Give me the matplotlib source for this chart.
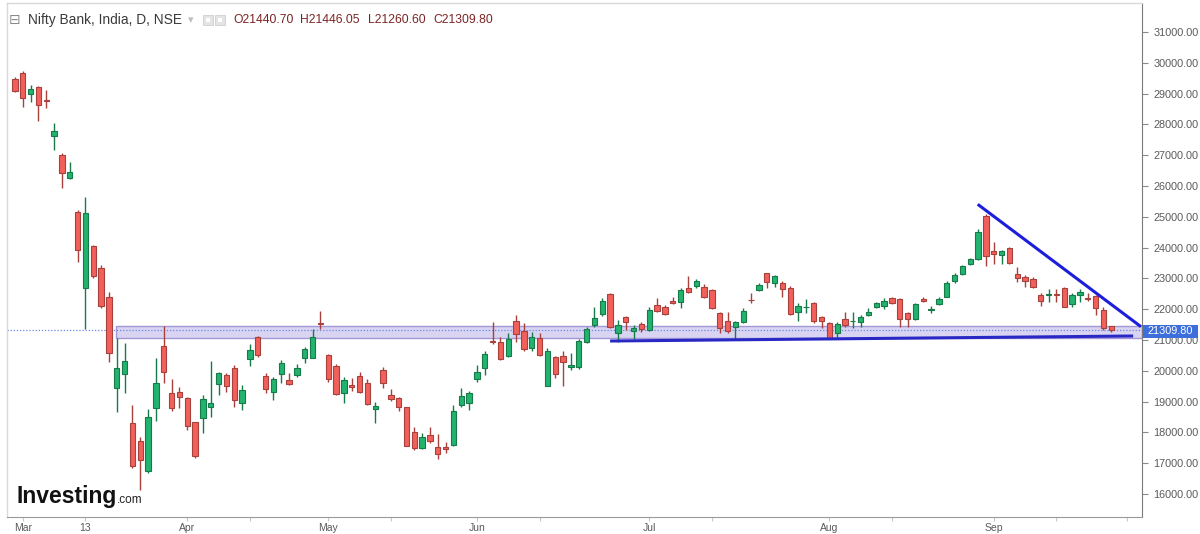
import matplotlib
matplotlib.use("Agg")
import matplotlib.pyplot as plt
from matplotlib.patches import Rectangle

# ---------------- data ----------------
opens = [29474, 29659, 28987, 29224, 28792, 27623, 27006, 26250, 25166, 22698,
         24052, 23328, 22406, 19432, 19896, 18295, 17721, 16747, 18782, 20805,
         19269, 19321, 19126, 18328, 18457, 18815, 19571, 19863, 20081, 18964,
         20373, 21107, 19831, 19312, 19896, 19701, 19863, 20406, 20406, 21562,
         20513, 20156, 19289, 19529, 19841, 19614, 18750, 20026, 19204, 19117,
         18815, 18023, 17484, 17915, 17535, 17516, 17591, 18889, 18964, 19724,
         20101, 20967, 20945, 20480, 21627, 21292, 20730, 21074, 19516, 20458,
         20480, 20133, 20113, 20945, 21477, 21844, 22484, 21217, 21737, 21292,
         21519, 21325, 22136, 22081, 22276, 22243, 22698, 22753, 22730, 22623,
         21886, 21627, 21432, 21594, 22299, 22623, 23165, 22841, 22860, 22678,
         21899, 22062, 22211, 21737, 21562, 21217, 21672, 21617, 21575, 21812,
         22062, 22114, 22373, 22321, 21886, 21682, 22315, 21984, 22169, 22406,
         22925, 23143, 23467, 23620, 25026, 23890, 23760, 23977, 23133, 23036,
         22971, 22471, 22465, 22493, 22678, 22169, 22451, 22354, 22428, 21974,
         21440.70]
highs = [29529, 29734, 29279, 29247, 29117, 28036, 27062, 26789, 25221, 25653,
         24084, 23435, 22549, 21055, 20912, 18889, 17860, 18750, 20406, 21464,
         19724, 19484, 19159, 18347, 19214, 20318, 19971, 19919, 20188, 19539,
         20870, 21130, 19919, 19808, 20351, 19938, 20221, 20782, 21347, 21951,
         20545, 20221, 19789, 19756, 19971, 19724, 18997, 20114, 19399, 19159,
         18834, 18185, 17971, 18185, 17948, 17678, 18889, 19432, 19354, 20188,
         20643, 21594, 21107, 21217, 21812, 21562, 21250, 21237, 20750, 20480,
         20652, 20588, 21023, 21432, 22081, 22354, 22516, 21649, 21779, 21487,
         21594, 22062, 22354, 22136, 22406, 22678, 23078, 22971, 22818, 22646,
         21919, 21919, 21627, 22029, 22516, 22860, 23185, 23110, 22915, 22753,
         22191, 22321, 22243, 21779, 21584, 21575, 21919, 21919, 21812, 22029,
         22243, 22354, 22406, 22354, 21919, 22191, 22406, 22104, 22386, 22925,
         23165, 23435, 23672, 24594, 25091, 24191, 23922, 24010, 23380, 23110,
         23036, 22516, 22656, 22656, 22730, 22516, 22646, 22516, 22461, 22062,
         21446.05]
lows = [29062, 28575, 28737, 28120, 28523, 27169, 25925, 26217, 23542, 21347,
        23003, 22029, 20295, 18672, 19269, 16834, 16130, 16672, 18380, 19594,
        18704, 18782, 18078, 17159, 17990, 18510, 19214, 19302, 18834, 18727,
        20156, 20458, 19269, 19052, 19594, 19539, 19808, 20263, 20406, 21347,
        19646, 19214, 18964, 19354, 19289, 18900, 18315, 19432, 19029, 18704,
        17558, 17428, 17451, 17646, 17127, 17341, 17568, 18815, 18727, 19646,
        19863, 20870, 20351, 20438, 20945, 20652, 20652, 20480, 19500, 19756,
        19516, 20026, 20049, 20893, 21432, 21779, 21399, 20945, 21325, 21023,
        21269, 21302, 21919, 21812, 22169, 22049, 22516, 22678, 22354, 21997,
        21237, 21237, 21000, 21562, 22191, 22601, 22678, 22730, 22406, 21812,
        21627, 21886, 21562, 21380, 21020, 21023, 21432, 21380, 21432, 21779,
        22029, 21997, 22169, 21432, 21432, 21649, 22243, 21886, 22136, 22386,
        22860, 23110, 23445, 23597, 23403, 23467, 23467, 23467, 22893, 22730,
        22678, 22104, 22243, 22243, 22062, 22081, 22243, 22276, 21812, 21325,
        21260.60]
closes = [29094, 28847, 29140, 28630, 28769, 27786, 26432, 26464, 23922, 25133,
          23078, 22114, 20568, 20081, 20318, 16909, 17104, 18490, 19594, 19971,
          18782, 19159, 18217, 17234, 19074, 18945, 19919, 19506, 19052, 19376,
          20675, 20513, 19409, 19734, 20263, 19571, 20081, 20698, 21107, 21519,
          19724, 19247, 19701, 19484, 19321, 18922, 18867, 19614, 19074, 18815,
          17568, 17484, 17841, 17730, 17289, 17451, 18704, 19182, 19289, 19951,
          20545, 20925, 20373, 21022, 21185, 20708, 21107, 20513, 20643, 19896,
          20295, 20188, 20967, 21347, 21704, 22276, 21432, 21487, 21575, 21380,
          21357, 21974, 21941, 21834, 22191, 22623, 22568, 22915, 22406, 22049,
          21380, 21302, 21594, 21951, 22290, 22786, 22893, 23078, 22646, 21834,
          22104, 22072, 21617, 21627, 21032, 21510, 21487, 21627, 21737, 21899,
          22211, 22276, 22191, 21682, 21682, 22169, 22282, 22006, 22321, 22841,
          23110, 23403, 23620, 24516, 23727, 23792, 23880, 23510, 23003, 22925,
          22730, 22266, 22477, 22477, 22081, 22451, 22568, 22321, 22029, 21380,
          21309.80]

month_ticks = [1, 9, 22, 40, 59, 81, 104, 125]
month_labels = ["Mar", "13", "Apr", "May", "Jun", "Jul", "Aug", "Sep"]
minor_ticks = [30, 48, 67, 89, 112, 133, 142]
price_ticks = list(range(16000, 31001, 1000))

zone_start = 13
zone_low, zone_high = 21055, 21465
support_x, support_y = [76.0, 142.8], [20967, 21130]
trend_x, trend_y = [122.95, 143.8], [25406, 21432]
last_close = 21309.80

title = "Nifty Bank, India, D, NSE"
ohlc_text = [("O", "21440.70"), ("H", "21446.05"), ("L", "21260.60"), ("C", "21309.80")]

# ---------------- figure ----------------
W, H = 1200, 534
fig = plt.figure(figsize=(W / 100, H / 100), dpi=100)
fig.patch.set_facecolor("white")

def fx(px):
    return px / W

def fy(py):
    return 1 - py / H

ax_left, ax_right, ax_top, ax_bottom = 7, 1142, 3, 517
ax = fig.add_axes([fx(ax_left), fy(ax_bottom), fx(ax_right - ax_left), (ax_bottom - ax_top) / H])
ax.set_facecolor("white")
ax.set_xlim(-1.02, 143.93)
ax.set_ylim(15253, 31942)

UP_FILL, UP_EDGE = "#22b36f", "#177a49"
DN_FILL, DN_EDGE = "#f2605b", "#a8403b"
body_w = 0.68
min_h = 18

# support/resistance zone
ax.add_patch(Rectangle((zone_start - 0.1, zone_low), 143.93 - zone_start + 0.1, zone_high - zone_low,
                       facecolor="#d2cdef", edgecolor="#968ad0", linewidth=1.0, alpha=0.85, zorder=1))
# last price dotted line
ax.axhline(last_close, color="#6f86e8", linestyle=(0, (1, 1.5)), linewidth=0.9, zorder=1.5)

for i, (o, h, l, c) in enumerate(zip(opens, highs, lows, closes)):
    up = c >= o
    fill = UP_FILL if up else DN_FILL
    edge = UP_EDGE if up else DN_EDGE
    ax.vlines(i, l, h, color=edge, linewidth=1.0, zorder=2)
    bottom = min(o, c)
    height = max(abs(c - o), min_h)
    if abs(c - o) < min_h:
        bottom = (o + c) / 2 - min_h / 2
    ax.add_patch(Rectangle((i - body_w / 2, bottom), body_w, height,
                           facecolor=fill, edgecolor=edge, linewidth=0.8, zorder=3))

ax.plot(support_x, support_y, color="#2a28c4", linewidth=2.2, solid_capstyle="butt", zorder=4)
ax.plot(trend_x, trend_y, color="#1d1ddc", linewidth=2.2, solid_capstyle="butt", zorder=4)

# axes styling
for side in ["top", "left"]:
    ax.spines[side].set_color("#d9d9d9")
    ax.spines[side].set_linewidth(1.0)
ax.spines["right"].set_color("#7a7a7a")
ax.spines["bottom"].set_color("#9a9a9a")

ax.yaxis.tick_right()
ax.set_yticks(price_ticks)
ax.set_yticklabels([f"{p:.2f}" for p in price_ticks])
ax.tick_params(axis="y", direction="out", length=4, width=0.8, color="#8a8a8a",
               labelcolor="#5a5a5a", labelsize=7.8, pad=4)
for t in ax.get_yticklabels():
    t.set_fontfamily("Liberation Sans")

ax.set_xticks(month_ticks)
ax.set_xticklabels(month_labels)
ax.set_xticks(minor_ticks, minor=True)
ax.tick_params(axis="x", which="both", direction="out", length=3, width=0.8, color="#c8c8c8",
               labelcolor="#5a5a5a", labelsize=7.5, pad=1.5)
for t in ax.get_xticklabels():
    t.set_fontfamily("Liberation Sans")

# last price label on the axis
fig.patches.append(Rectangle((fx(1143), fy(338)), fx(55), 13 / H, transform=fig.transFigure,
                             facecolor="#3d6fdc", edgecolor="none", zorder=10))
fig.text(fx(1170), fy(331), f"{last_close:.2f}", color="white", fontsize=7.8,
         family="Liberation Sans", ha="center", va="center", zorder=11)

# header
fig.text(fx(9), fy(20), "\u229f", color="#8a8a8a", fontsize=10, family="DejaVu Sans", va="center")
fig.text(fx(28), fy(20), title, color="#3a3a3a", fontsize=9.9, family="Liberation Sans", va="center")
fig.text(fx(188), fy(20), "\u25be", color="#bdbdbd", fontsize=8, family="DejaVu Sans", va="center")
for x0 in (203, 215):
    fig.patches.append(Rectangle((fx(x0), fy(25)), fx(10), 10 / H, transform=fig.transFigure,
                                 facecolor="#e4e4e4", edgecolor="#cfcfcf", linewidth=0.6))
    fig.patches.append(Rectangle((fx(x0 + 3), fy(22)), fx(4), 4 / H, transform=fig.transFigure,
                                 facecolor="white", edgecolor="none"))
xpos = [233, 300, 368, 433]
for (lab, val), xp in zip(ohlc_text, xpos):
    fig.text(fx(xp), fy(20), lab + val, color="#7d2424", fontsize=8.7,
             family="Liberation Sans", va="center")

# watermark logo
fig.text(fx(17), fy(497), "Investing", color="#111111", fontsize=16.5, fontweight="bold",
         family="Liberation Sans", va="center")
fig.text(fx(117), fy(500), ".com", color="#222222", fontsize=8.5, family="Liberation Sans", va="center")

fig.savefig("out.png", dpi=100, facecolor="white")
